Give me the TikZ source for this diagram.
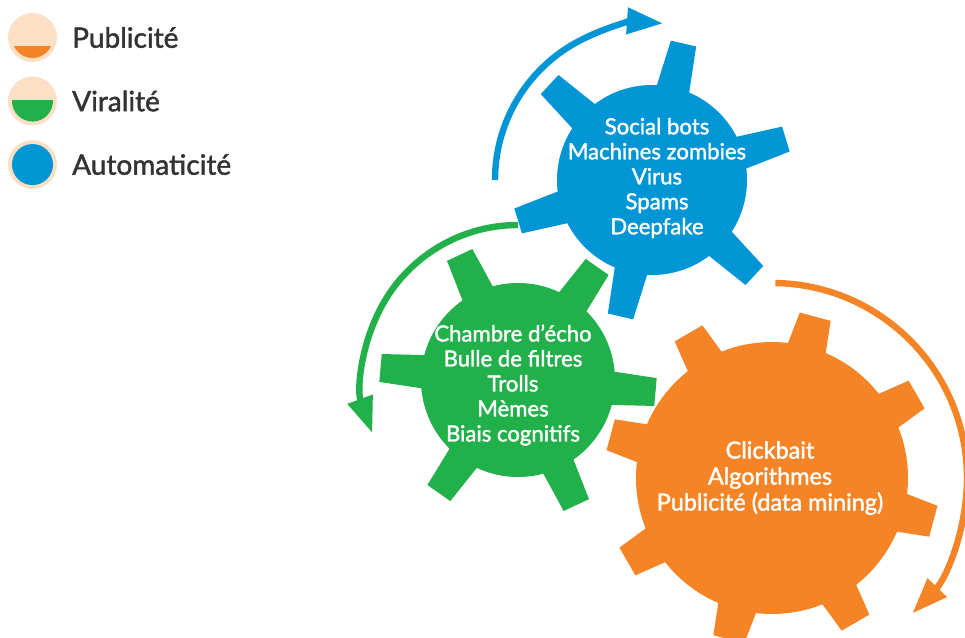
\documentclass[tikz,border=0pt]{standalone}
\usepackage{fontspec}
\setmainfont{Lato}[FakeBold=1.6]
\usetikzlibrary{positioning,calc,arrows.meta}
\definecolor{autoblue}{HTML}{0096D6}
\definecolor{viralgreen}{HTML}{22B04B}
\definecolor{puborange}{HTML}{F58426}
\definecolor{peach}{HTML}{FDDFC6}
\definecolor{legendgray}{HTML}{333333}

\tikzset{
  geartext/.style={text=white, align=center, inner sep=0pt,
    font=\fontsize{16.6}{18.75}\selectfont},
  legendtext/.style={text=legendgray, inner sep=0pt,
    font=\fontsize{21}{24}\selectfont},
  legenddot/.style={circle, fill=peach, minimum size=36.75pt, inner sep=0pt},
  turn/.style={line width=4.8pt, -{Triangle[length=27pt,width=19pt]}},
}

\begin{document}
\begin{tikzpicture}[x=0.75pt, y=0.75pt]
  \useasboundingbox (0,0) rectangle (965,637);
  % Define gears
  \coordinate (clickc) at (772,159);
  \coordinate (echoc) at (518,257);
  \coordinate (botsc) at (652,457);
  \fill[puborange] (clickc) circle (136);
  \foreach \a in {120,75,30,-15,-60,-105,-150,165}
    \fill[puborange, shift={(clickc)}, rotate=\a]
      (130,-20) -- (167,-16) -- (167,16) -- (130,20) -- cycle;
  \fill[viralgreen] (echoc) circle (97);
  \foreach \a in {115,55,-5,-65,-125,175}
    \fill[viralgreen, shift={(echoc)}, rotate=\a]
      (90,-17) -- (138,-14) -- (138,14) -- (90,17) -- cycle;
  \fill[autoblue] (botsc) circle (95);
  \foreach \a in {77,17,-43,-103,-163,137}
    \fill[autoblue, shift={(botsc)}, rotate=\a]
      (88,-17) -- (140,-13) -- (140,13) -- (88,17) -- cycle;
  % Define gear texts
  \node[geartext] (bots) at (657,459)
    {Social bots\\Machines zombies\\Virus\\Spams\\Deepfake};
  \node[geartext] (echo) at (513,252)
    {Chambre d’écho\\Bulle de filtres\\Trolls\\Mèmes\\Biais cognitifs};
  \node[geartext, font=\fontsize{17.6}{19.5}\selectfont] (click) at (770,159)
    {Clickbait\\Algorithmes\\Publicité (data mining)};
  % Define turning arrows
  \draw[turn, autoblue] ($(botsc)+(180:157)$)
    arc[start angle=180, end angle=86, radius=157];
  \draw[turn, viralgreen] ($(echoc)+(90:155)$)
    arc[start angle=90, end angle=200, radius=155];
  \draw[turn, puborange] ($(clickc)+(89:195)$)
    arc[start angle=89, end angle=-44, radius=195];
  % Define legend
  \node[legenddot] (pubdot) at (32.5,599.5) {};
  \node[legenddot, below=10.5pt of pubdot] (viraldot) {};
  \node[legenddot, below=10.5pt of viraldot] (autodot) {};
  \begin{scope}
    \clip (pubdot.center) circle (20.5);
    \fill[puborange] ($(pubdot.center)+(-25,-9)$) rectangle ($(pubdot.center)+(25,-25)$);
  \end{scope}
  \begin{scope}
    \clip (viraldot.center) circle (20.5);
    \fill[viralgreen] ($(viraldot.center)+(-25,1)$) rectangle ($(viraldot.center)+(25,-25)$);
  \end{scope}
  \fill[autoblue] (autodot.center) circle (20.5);
  \node[legendtext, right=11pt of pubdot] (pubtext) {Publicité};
  \node[legendtext, right=11pt of viraldot] (viraltext) {Viralité};
  \node[legendtext, right=11pt of autodot] (autotext) {Automaticité};
\end{tikzpicture}
\end{document}
